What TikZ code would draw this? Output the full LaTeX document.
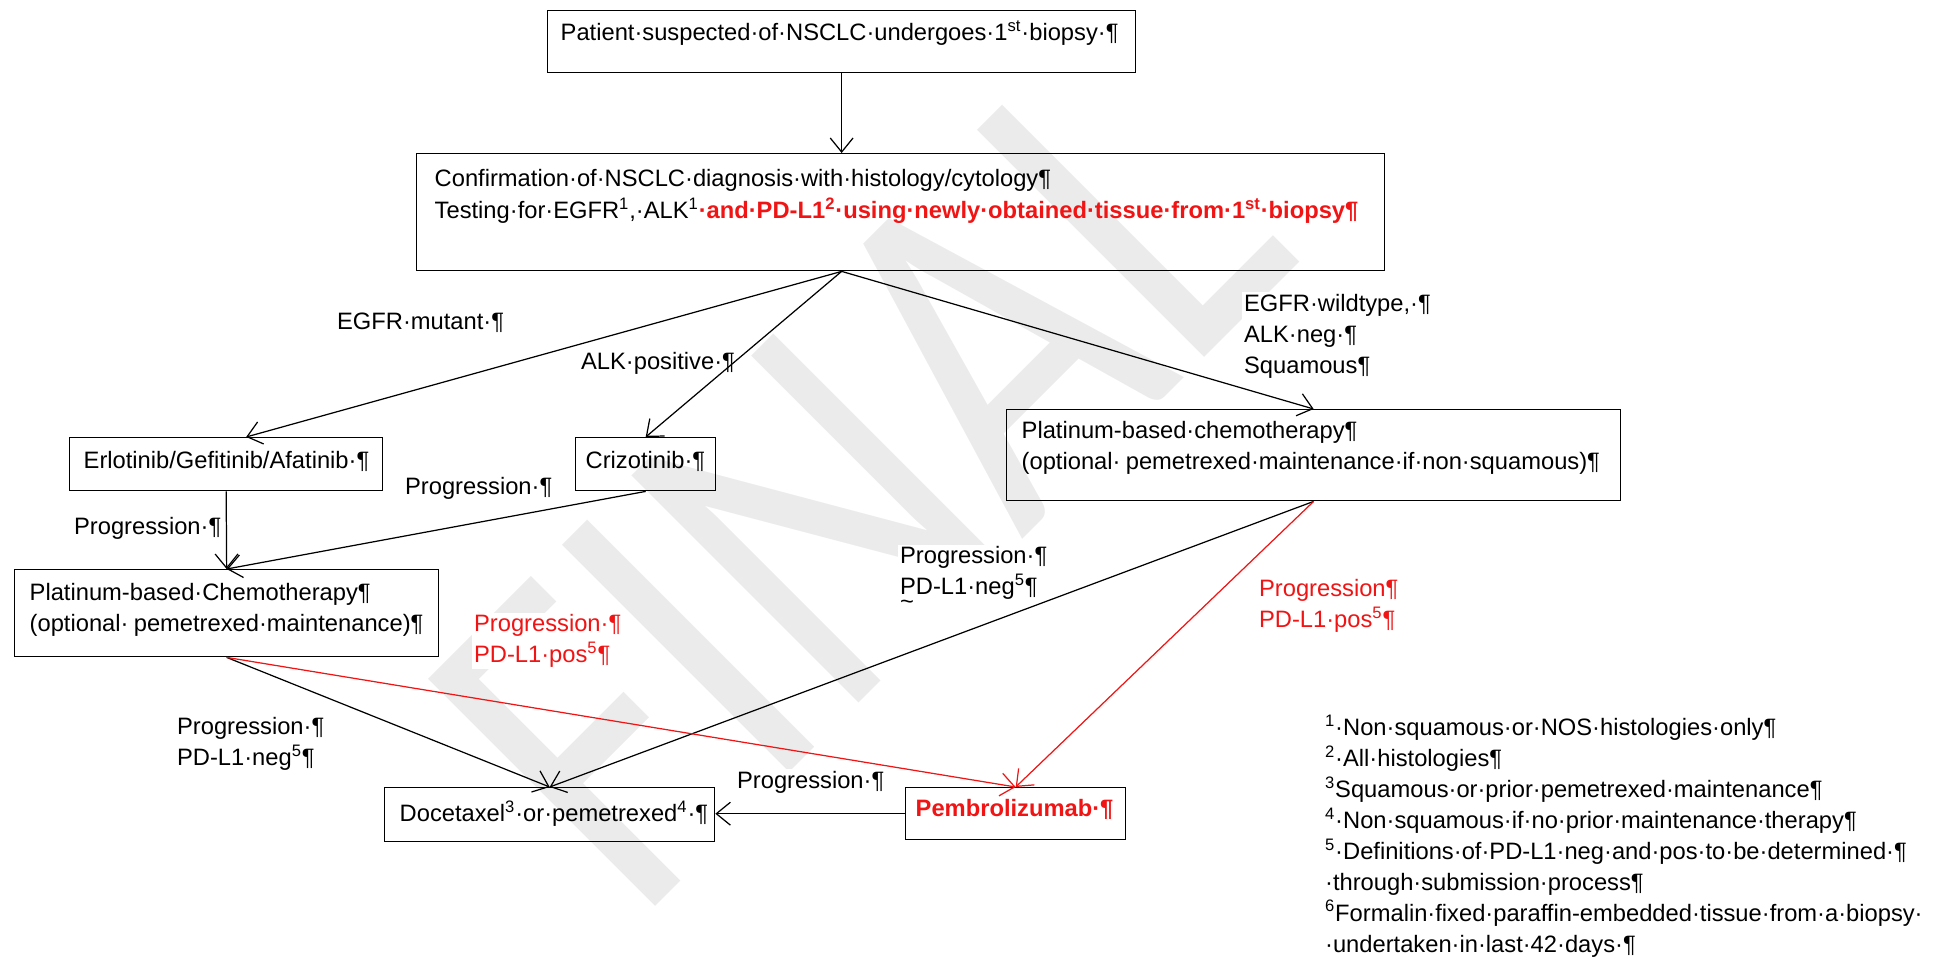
\documentclass[tikz,border=0pt]{standalone}
\usepackage{fontspec}
\setmainfont{Liberation Sans}
\newfontfamily\wmfont[FakeStretch=0.8]{Carlito}
\usetikzlibrary{arrows.meta}
\definecolor{wred}{RGB}{240,20,20}
\hyphenpenalty=10000
\exhyphenpenalty=10000

\begin{document}
\begin{tikzpicture}[x=0.02cm, y=-0.02cm, font=\fontsize{13.5}{17.6}\selectfont,
    >={Straight Barb[length=8pt,width=13pt]},
    wbox/.style={draw, line width=0.8pt, anchor=north west, inner ysep=0pt, align=left},
    lbl/.style={anchor=west, align=left, fill=white, inner sep=1pt},
    conn/.style={->, line width=0.7pt}]
  \useasboundingbox (0,0) rectangle (1947,974);
  % watermark behind everything
  \node[rotate=45, inner sep=0pt, text=black!8, font=\wmfont\fontsize{285}{285}\selectfont] (wm) at (857,478) {FINAL};

  % labels
  \node[lbl] (lmut) at (335,323) {EGFR·mutant·¶};
  \node[lbl] (lalk) at (579,363) {ALK·positive·¶};
  \node[lbl] (lwild) at (1242,336) {EGFR·wildtype,·¶\\ALK·neg·¶\\Squamous¶};
  \node[lbl] (lprog1) at (403,488) {Progression·¶};
  \node[lbl] (lprog2) at (72,528) {Progression·¶};
  \node[lbl] (lneg1) at (898,578) {Progression·¶\\PD-L1·neg\textsuperscript{5}¶\\[-9pt]\textasciitilde};
  \node[lbl, text=wred] (lpos1) at (1257,606) {Progression¶\\PD-L1·pos\textsuperscript{5}¶};
  \node[lbl, text=wred] (lpos2) at (472,641) {Progression·¶\\PD-L1·pos\textsuperscript{5}¶};
  \node[lbl] (lneg2) at (175,744) {Progression·¶\\PD-L1·neg\textsuperscript{5}¶};
  \node[lbl] (lprog3) at (735,782) {Progression·¶};
  \node[lbl] (notes) at (1323,836) {\textsuperscript{1}·Non·squamous·or·NOS·histologies·only¶\\
    \textsuperscript{2}·All·histologies¶\\
    \textsuperscript{3}Squamous·or·prior·pemetrexed·maintenance¶\\
    \textsuperscript{4}·Non·squamous·if·no·prior·maintenance·therapy¶\\
    \textsuperscript{5}·Definitions·of·PD-L1·neg·and·pos·to·be·determined·¶\\
    ·through·submission·process¶\\
    \textsuperscript{6}Formalin·fixed·paraffin-embedded·tissue·from·a·biopsy·\\
    ·undertaken·in·last·42·days·¶};

  % boxes
  \node[wbox, inner xsep=0.26cm, text width=11.24cm, text height=0.6cm, text depth=0.64cm] (top) at (547,10)
    {Patient·suspected·of·NSCLC·undergoes·1\textsuperscript{st}·biopsy·¶};
  \node[wbox, inner xsep=0.36cm, text width=18.64cm, text height=0.66cm, text depth=1.68cm] (diag) at (416,153)
    {Confirmation·of·NSCLC·diagnosis·with·histology/cytology¶\\[0.5pt]
     Testing·for·EGFR\textsuperscript{1},·ALK\textsuperscript{1}{\color{wred}\bfseries·and·PD-L1\textsuperscript{2}·using·newly·obtained·tissue·from·1\textsuperscript{st}·biopsy¶}};
  \node[wbox, inner xsep=0.28cm, text width=5.7cm, text height=0.62cm, text depth=0.44cm] (erl) at (69,437)
    {Erlotinib/Gefitinib/Afatinib·¶};
  \node[wbox, inner xsep=0.2cm, text width=2.4cm, text height=0.62cm, text depth=0.44cm] (criz) at (575,437)
    {Crizotinib·¶};
  \node[wbox, inner xsep=0.3cm, text width=11.68cm, text height=0.58cm, text depth=1.24cm] (chemo) at (1006,409)
    {Platinum-based·chemotherapy¶\\(optional·\kern3pt pemetrexed·maintenance·if·non·squamous)¶};
  \node[wbox, inner xsep=0.3cm, text width=7.88cm, text height=0.62cm, text depth=1.12cm] (chemoL) at (14,569)
    {Platinum-based·Chemotherapy¶\\(optional·\kern3pt pemetrexed·maintenance)¶};
  \node[wbox, inner xsep=0.3cm, text width=6cm, text height=0.68cm, text depth=0.4cm] (doce) at (384,787)
    {Docetaxel\textsuperscript{3}·or·pemetrexed\textsuperscript{4}·¶};
  \node[wbox, inner xsep=0.2cm, text width=4cm, text height=0.58cm, text depth=0.46cm, text=wred, font=\fontsize{13.5}{17.6}\selectfont\bfseries] (pem) at (905,787)
    {Pembrolizumab·¶};

  % connectors
  \draw[conn] (top.south) -- (top.south |- diag.north);
  \coordinate (split) at (diag.south -| top.south);
  \draw[conn] (split) -- ([xshift=0.4cm]erl.north);
  \draw[conn] (split) -- (criz.north);
  \draw[conn] (split) -- (chemo.north);
  \draw[conn] (erl.south) -- (chemoL.north);
  \draw[conn] (criz.south) -- (chemoL.north);
  \draw[conn] (chemoL.south) -- (doce.north);
  \draw[conn] (chemo.south) -- (doce.north);
  \draw[conn, wred] (chemoL.south) -- (pem.north);
  \draw[conn, wred] (chemo.south) -- (pem.north);
  \draw[conn] (pem.west) -- (pem.west -| doce.east);
\end{tikzpicture}
\end{document}
